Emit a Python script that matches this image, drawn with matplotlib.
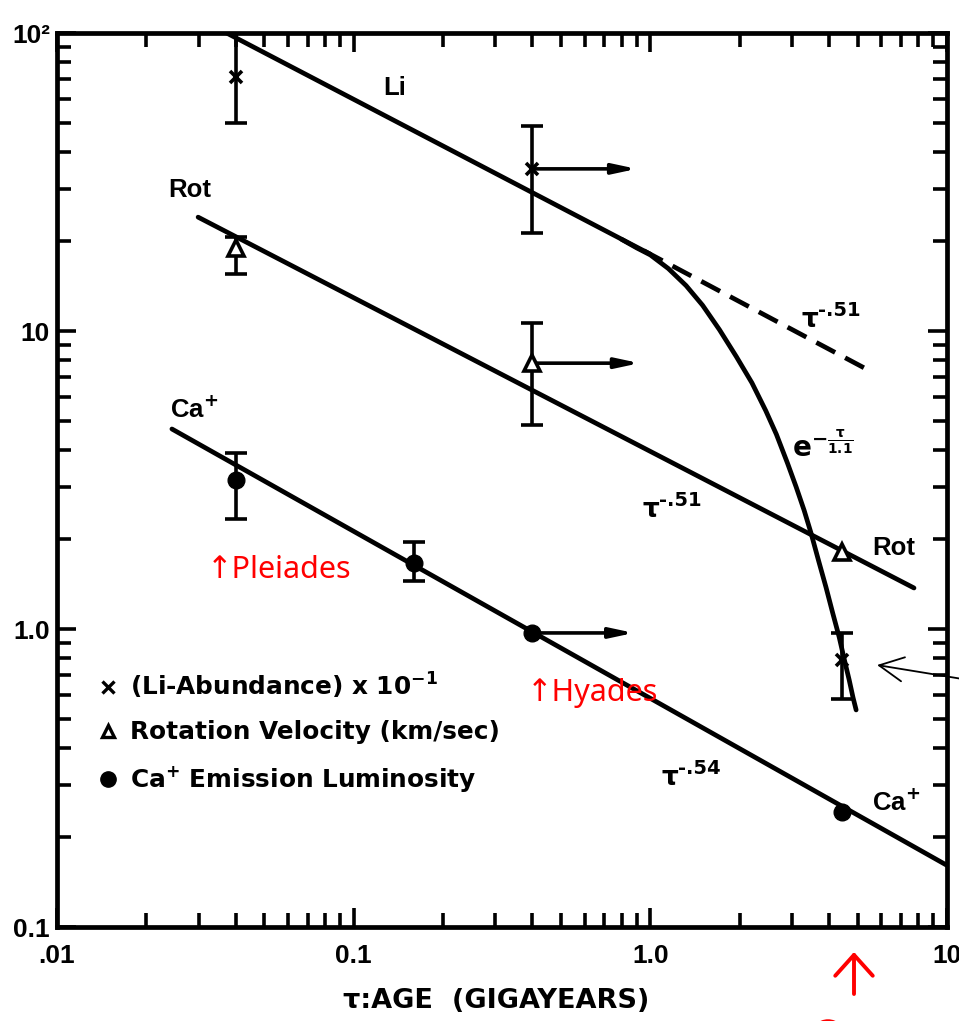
import matplotlib
matplotlib.use('Agg')
import matplotlib.pyplot as plt
from matplotlib.lines import Line2D
from matplotlib.patches import Ellipse
from matplotlib.ticker import LogLocator, NullFormatter, FixedLocator
import numpy as np

# ---------------- data ----------------
# Li abundance (x 10^-1)
li_age = [0.040, 0.40, 4.43]
li_val = [71.0, 35.0, 0.79]
li_lo = [50.0, 21.3, 0.58]
li_hi = [100.0, 48.7, 0.97]

# Rotation velocity (km/sec)
rot_age = [0.040, 0.40, 4.43]
rot_val = [19.0, 7.8, 1.81]
rot_err_age = [0.040, 0.40]
rot_err_val = [19.0, 7.8]
rot_lo = [15.5, 4.84]
rot_hi = [20.7, 10.6]

# Ca+ emission luminosity
ca_age = [0.040, 0.160, 0.40, 4.43]
ca_val = [3.16, 1.665, 0.97, 0.243]
ca_err_age = [0.040, 0.160]
ca_err_val = [3.16, 1.665]
ca_lo = [2.34, 1.45]
ca_hi = [3.90, 1.96]

# Hyades lower-limit arrows (start age, end ages, values for Li, Rot, Ca)
hyades_age = 0.40
arrow_end_age = [0.90, 0.92, 0.88]
arrow_val = [35.0, 7.8, 0.97]

# fitted relations
li_fit_age = [0.0373, 1.0]
li_fit_val = [100.0, 18.1]
li_dash_age = [0.95, 5.59]
li_dash_val = [18.6, 7.28]
li_exp_age = [0.80, 0.90, 1.00, 1.15, 1.32, 1.50, 1.71, 1.95, 2.20, 2.45, 2.66,
              2.90, 3.10, 3.30, 3.48, 3.70, 3.91, 4.12, 4.33, 4.52, 4.68, 4.82, 4.94]
li_exp_val = [20.3, 19.0, 18.0, 16.2, 14.2, 12.2, 10.1, 8.2, 6.7, 5.4, 4.5,
              3.6, 3.0, 2.5, 2.1, 1.68, 1.38, 1.13, 0.94, 0.78, 0.675, 0.59, 0.535]
rot_fit_age = [0.0299, 7.74]
rot_fit_val = [24.1, 1.373]
ca_fit_age = [0.0244, 10.0]
ca_fit_val = [4.69, 0.161]

x_tick_vals = [0.01, 0.1, 1.0, 10.0]
x_tick_labels = ['.01', '0.1', '1.0', '10']
y_tick_vals = [0.1, 1.0, 10.0, 100.0]
y_tick_labels = ['0.1', '1.0', '10', '10²']

legend_labels = ['(Li-Abundance) x 10$^{-1}$',
                 'Rotation Velocity (km/sec)',
                 'Ca$^{+}$ Emission Luminosity']

# ---------------- figure ----------------
plt.rcParams['mathtext.fontset'] = 'dejavusans'
plt.rcParams['mathtext.default'] = 'bf'

W, H = 959, 1021
fig = plt.figure(figsize=(W / 100, H / 100), dpi=100)
ax = fig.add_axes([57 / W, 94 / H, 890 / W, 894 / H])
ax.set_xscale('log')
ax.set_yscale('log')
ax.set_xlim(0.01, 10)
ax.set_ylim(0.1, 100)

K = 'black'
LW = 3.4
EW = 2.6

# fit lines
ax.plot(li_fit_age, li_fit_val, color=K, lw=LW, solid_capstyle='round')
ax.plot(li_dash_age, li_dash_val, color=K, lw=LW, dashes=(4.5, 2.4))
ax.plot(li_exp_age, li_exp_val, color=K, lw=LW, solid_capstyle='round', solid_joinstyle='round')
ax.plot(rot_fit_age, rot_fit_val, color=K, lw=LW, solid_capstyle='round')
ax.plot(ca_fit_age, ca_fit_val, color=K, lw=LW, solid_capstyle='round')

# error bars
ax.errorbar(li_age, li_val,
            yerr=[np.subtract(li_val, li_lo), np.subtract(li_hi, li_val)],
            fmt='none', ecolor=K, elinewidth=EW, capsize=8, capthick=EW)
ax.errorbar(rot_err_age, rot_err_val,
            yerr=[np.subtract(rot_err_val, rot_lo), np.subtract(rot_hi, rot_err_val)],
            fmt='none', ecolor=K, elinewidth=EW, capsize=8, capthick=EW)
ax.errorbar(ca_err_age, ca_err_val,
            yerr=[np.subtract(ca_err_val, ca_lo), np.subtract(ca_hi, ca_err_val)],
            fmt='none', ecolor=K, elinewidth=EW, capsize=8, capthick=EW)

# lower-limit arrows
for xe, yv in zip(arrow_end_age, arrow_val):
    ax.annotate('', xy=(xe, yv), xytext=(hyades_age, yv),
                arrowprops=dict(arrowstyle='-|>,head_length=0.7,head_width=0.15',
                                lw=EW, color=K, mutation_scale=20,
                                shrinkA=0, shrinkB=0))

# markers
ax.plot(li_age, li_val, ls='none', marker='x', ms=9, mew=2.6, color=K, zorder=5)
ax.plot(rot_age, rot_val, ls='none', marker='^', ms=11, mew=2.6, mfc='white', mec=K, zorder=5)
ax.plot(ca_age, ca_val, ls='none', marker='o', ms=12, color=K, zorder=5)

# axes styling
for s in ax.spines.values():
    s.set_linewidth(3.4)
ax.xaxis.set_major_locator(FixedLocator(x_tick_vals))
ax.set_xticklabels(x_tick_labels)
ax.yaxis.set_major_locator(FixedLocator(y_tick_vals))
ax.set_yticklabels(y_tick_labels)
ax.xaxis.set_minor_locator(LogLocator(base=10, subs=(2, 3, 4, 5, 6, 7, 8, 9)))
ax.yaxis.set_minor_locator(LogLocator(base=10, subs=(2, 3, 4, 5, 6, 7, 8, 9)))
ax.xaxis.set_minor_formatter(NullFormatter())
ax.yaxis.set_minor_formatter(NullFormatter())
ax.tick_params(which='major', direction='in', length=14, width=2.6, top=True, right=True)
ax.tick_params(which='minor', direction='in', length=10, width=2.6, top=True, right=True)
ax.tick_params(axis='x', which='major', pad=12)
ax.tick_params(axis='y', which='major', pad=5)
for lab in ax.get_xticklabels() + ax.get_yticklabels():
    lab.set_fontfamily(['Liberation Sans', 'DejaVu Sans'])
    lab.set_fontweight('bold')
    lab.set_fontsize(19)

ax.set_xlabel('τ:AGE  (GIGAYEARS)', family='DejaVu Sans', weight='bold', fontsize=19.5)
ax.xaxis.set_label_coords(0.493, -0.068)

# legend
handles = [Line2D([], [], ls='none', marker='x', ms=8, mew=2.4, color=K),
           Line2D([], [], ls='none', marker='^', ms=9, mew=2.4, mfc='white', mec=K),
           Line2D([], [], ls='none', marker='o', ms=11, color=K)]
ax.legend(handles, legend_labels, loc='upper left', bbox_to_anchor=(0.046, 0.287),
          frameon=False, borderpad=0, borderaxespad=0, handlelength=0.8,
          handletextpad=0.5, labelspacing=0.8,
          prop=dict(family='DejaVu Sans', weight='bold', size=17.8))

# in-plot labels
lab_kw = dict(family=['Liberation Sans', 'DejaVu Sans'], weight='bold', fontsize=18.5,
              ha='center', va='center', color=K)
ax.text(0.1374, 65.3, 'Li', **lab_kw)
ax.text(0.0281, 29.7, 'Rot', **lab_kw)
ax.text(0.0290, 5.43, 'Ca$^{+}$', **lab_kw)
ax.text(6.63, 1.87, 'Rot', **lab_kw)
ax.text(6.73, 0.261, 'Ca$^{+}$', **lab_kw)


def tau_label(x, y, expo):
    ax.text(x, y, 'τ', family='DejaVu Sans', weight='bold', fontsize=19,
            ha='left', va='baseline', color=K)
    ax.annotate(expo, xy=(x, y), xycoords='data', xytext=(12, 8),
                textcoords='offset points', family='DejaVu Sans', weight='bold',
                fontsize=14, ha='left', va='baseline', color=K)


tau_label(3.224, 10.31, '-.51')
tau_label(0.940, 2.376, '-.51')
tau_label(1.089, 0.2996, '-.54')
ax.text(3.82, 4.05, r'$e^{-\frac{\tau}{1.1}}$', family='DejaVu Sans', weight='bold',
        fontsize=20, ha='center', va='center', color=K)

# red annotations
red_kw = dict(family=['Noto Sans', 'DejaVu Sans'], fontsize=22, color='red',
              ha='left', va='center')
ax.text(0.032, 1.58, '↑Pleiades', **red_kw)
ax.text(0.382, 0.61, '↑Hyades', **red_kw)

fig.patches.append(Ellipse((828 / W, (H - 1037) / H), 32 / W, 32 / H,
                           transform=fig.transFigure, fill=False,
                           edgecolor='red', lw=2.5))
ax.annotate('', xy=(854 / W, (H - 952) / H), xycoords='figure fraction',
            xytext=(854 / W, (H - 994) / H), textcoords='figure fraction',
            arrowprops=dict(arrowstyle='->,head_length=0.5,head_width=0.45',
                            color='red', lw=2.8, mutation_scale=30,
                            shrinkA=0, shrinkB=0))

# thin black pointer to the solar Li point
ax.annotate('', xy=(5.81, 0.757), xycoords='data',
            xytext=(1.01, (H - 680) / H), textcoords='figure fraction',
            arrowprops=dict(arrowstyle='->,head_length=0.7,head_width=0.35',
                            color=K, lw=1.3, mutation_scale=25,
                            shrinkA=0, shrinkB=0))

fig.savefig('out.png', dpi=100)
